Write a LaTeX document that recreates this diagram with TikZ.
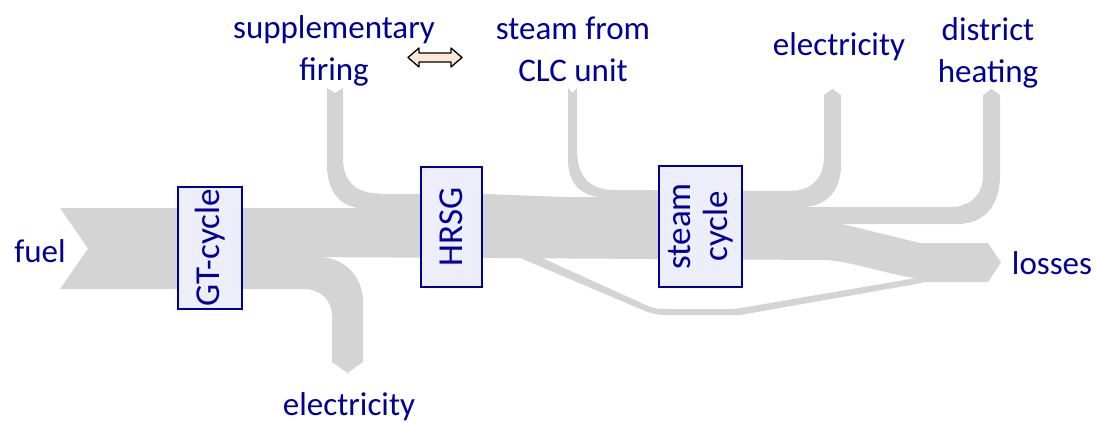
\documentclass[tikz,border=0pt]{standalone}
\usepackage{fontspec}
\setmainfont{Carlito}
\usepackage{tikz}

\definecolor{flowgray}{RGB}{212,212,212}
\definecolor{labelblue}{RGB}{0,0,150}
\definecolor{boxfill}{RGB}{238,238,250}
\definecolor{peach}{RGB}{253,231,214}

\tikzset{
  unit/.style={draw=labelblue, line width=1.6pt, fill=boxfill, text=labelblue,
    rotate=90, inner sep=0pt, align=center, font=\fontsize{35}{37}\selectfont},
  tag/.style={text=labelblue, inner sep=0pt, align=center, font=\fontsize{33}{42}\selectfont},
}

\begin{document}
\begin{tikzpicture}[x=1pt,y=-1pt]
            \useasboundingbox (0,0) rectangle (1096,423);

            % main stream, fuel in and losses out
            \fill[flowgray] (60,208) -- (376,208) -- (376,194) -- (485,194) -- (565,197) -- (605,197) -- (605,190)
                -- (797,191) -- (797,207) -- (842,207) -- (842,224) -- (920,243) -- (988,243) -- (1001,262.5)
                -- (988,282) -- (920,282) -- (920,279) .. controls (890,275) and (850,261) .. (825,260)
                -- (485,258) -- (300,257) -- (300,289) -- (60,289) -- (88,248.5) -- cycle;

            % branches leaving / joining the main stream
            \fill[flowgray] (298,257) -- (318,257) .. controls (345,257) and (363,277) .. (363,302) -- (363,362)
                -- (347.5,373) -- (332,362) -- (332,317) .. controls (332,300) and (321,289) .. (303,289) -- (298,289) -- cycle;
            \fill[flowgray] (327,88) -- (335,93) -- (343,88) -- (343,158) .. controls (343,182) and (356,193.5) .. (380,193.5)
                -- (380,210) -- (367,209) .. controls (342,209) and (327,193) .. (327,165) -- cycle;
            \fill[flowgray] (568,88) -- (572.5,93) -- (577,88) -- (577,150) .. controls (577,177) and (590,190) .. (615,190)
                -- (615,198) -- (603,197) .. controls (582,197) and (568,184) .. (568,160) -- cycle;
            \fill[flowgray] (780,191) -- (790,191) .. controls (811,191) and (824,178) .. (824,157) -- (824,95)
                -- (832.5,89) -- (841,95) -- (841,165) .. controls (841,191) and (826,207) .. (802,207) -- (780,207) -- cycle;
            \fill[flowgray] (835,207) -- (950,207) .. controls (970,207) and (983,195) .. (983,175) -- (983,95)
                -- (991.5,89) -- (1000,95) -- (1000,175) .. controls (1000,205) and (985,224) .. (957,224) -- (835,224) -- cycle;

            % thin bypass under the steam cycle
            \fill[flowgray] (518,257) -- (540,257) -- (648,306) .. controls (655,309) and (660,309) .. (668,309) -- (735,309)
                -- (922,277) -- (922,283) -- (740,315) -- (668,315) .. controls (658,315) and (652,314) .. (645,311) -- cycle;

            \node[unit, minimum width=122, minimum height=64] (gt) at (210,248) {GT-cycle};
            \node[unit, minimum width=120, minimum height=61] (hrsg) at (451.5,227) {HRSG};
            \node[unit, minimum width=121, minimum height=83] (steam) at (700.5,226.5) {steam\\cycle};

            \draw[line width=1.3, line join=round, fill=peach] (408,57.5) -- (419,48) -- (419,53) -- (451,53) -- (451,48)
                -- (462,57.5) -- (451,67) -- (451,62) -- (419,62) -- (419,67) -- cycle;

            \node[tag] (supp) at (334,51) {supplementary\\firing};
            \node[tag] (clc) at (573,49.5) {steam from\\CLC unit};
            \node[tag, anchor=base] (elsteam) at (839,55) {electricity};
            \node[tag] (dh) at (988,53) {district\\heating};
            \node[tag, anchor=base] (fuel) at (40,262) {fuel};
            \node[tag, anchor=base] (loss) at (1052,274) {losses};
            \node[tag, anchor=base] (elgt) at (349,415) {electricity};
        \end{tikzpicture}
\end{document}
